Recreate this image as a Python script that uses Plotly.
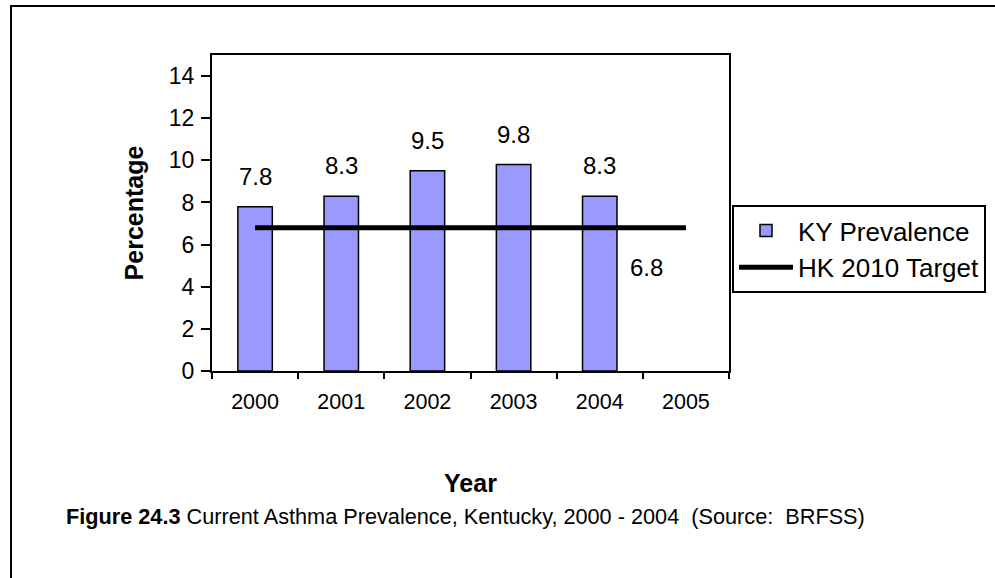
import plotly.graph_objects as go

# Data
years = ["2000", "2001", "2002", "2003", "2004", "2005"]
bar_years = ["2000", "2001", "2002", "2003", "2004"]
ky_prevalence = [7.8, 8.3, 9.5, 9.8, 8.3]
hk_target = [6.8, 6.8, 6.8, 6.8, 6.8, 6.8]
y_ticks = [0, 2, 4, 6, 8, 10, 12, 14]

FONT = "Arial, 'Liberation Sans', Helvetica, sans-serif"
W, H = 995, 578
ML, MR, MT, MB = 212, 266, 55, 207
PW, PH = W - ML - MR, H - MT - MB


def px_x(px):
    """Convert a page x pixel to paper coordinates."""
    return (px - ML) / PW


def px_y(py):
    """Convert a page y pixel to paper coordinates."""
    return (H - MB - py) / PH


fig = go.Figure()

fig.add_trace(go.Bar(
    x=bar_years, y=ky_prevalence, name="KY Prevalence",
    width=0.4,
    marker=dict(color="#9999FF", line=dict(color="black", width=1.5)),
))

fig.add_trace(go.Scatter(
    x=years, y=hk_target, name="HK 2010 Target", mode="lines",
    line=dict(color="black", width=5),
))

annotations = []
# value labels above the bars (category axis -> serial index)
for yr, v in zip(bar_years, ky_prevalence):
    annotations.append(dict(
        x=years.index(yr), y=v, xref="x", yref="y", text=f"{v:.1f}", showarrow=False,
        yanchor="bottom", yshift=15, font=dict(family=FONT, size=24, color="black"),
    ))
# value label for the target line
annotations.append(dict(
    x=len(years) - 1, y=hk_target[-1], xref="x", yref="y", text=f"{hk_target[-1]:.1f}",
    showarrow=False, yanchor="middle", xshift=-39, yshift=-40,
    font=dict(family=FONT, size=24, color="black"),
))
# figure caption
annotations.append(dict(
    x=px_x(64), y=px_y(516), xref="paper", yref="paper", xanchor="left", yanchor="middle",
    text="<b>Figure 24.3</b> Current Asthma Prevalence, Kentucky, 2000 - 2004 \u00a0(Source: \u00a0BRFSS)",
    showarrow=False, font=dict(family=FONT, size=21.7, color="black"),
))

shapes = [
    # outer frame (left and top edges)
    dict(type="line", xref="paper", yref="paper", x0=px_x(11), x1=px_x(11),
         y0=px_y(6), y1=px_y(H + 5), line=dict(color="black", width=2)),
    dict(type="line", xref="paper", yref="paper", x0=px_x(10), x1=px_x(W + 5),
         y0=px_y(6), y1=px_y(6), line=dict(color="black", width=2)),
]

fig.update_layout(
    width=W, height=H,
    margin=dict(l=ML, r=MR, t=MT, b=MB, autoexpand=False),
    paper_bgcolor="white", plot_bgcolor="white",
    font=dict(family=FONT, size=22, color="black"),
    showlegend=True,
    legend=dict(
        x=px_x(732), y=px_y(205), xanchor="left", yanchor="top",
        bgcolor="white", bordercolor="black", borderwidth=2,
        font=dict(family=FONT, size=26, color="black"),
        itemwidth=54, tracegroupgap=0,
    ),
    annotations=annotations,
    shapes=shapes,
    xaxis=dict(
        type="category", categoryorder="array", categoryarray=years,
        range=[-0.5, 5.5],
        showline=True, linecolor="black", linewidth=2, mirror=True,
        ticks="outside", tickson="boundaries", ticklen=6, tickwidth=2, tickcolor="black",
        showgrid=False, zeroline=False,
        tickfont=dict(family=FONT, size=21.5, color="black"),
        ticklabelstandoff=10,
        title=dict(text="<b>Year</b>", standoff=62,
                   font=dict(family=FONT, size=25, color="black")),
    ),
    yaxis=dict(
        range=[0, 15], tickvals=y_ticks,
        showline=True, linecolor="black", linewidth=2, mirror=True,
        ticks="outside", ticklen=9, tickwidth=2, tickcolor="black",
        showgrid=False, zeroline=False,
        tickfont=dict(family=FONT, size=23, color="black"),
        ticklabelstandoff=2,
        title=dict(text="<b>Percentage</b>", standoff=18,
                   font=dict(family=FONT, size=25, color="black")),
    ),
    # inward halves of the crossing tick marks
    xaxis2=dict(
        overlaying="x", range=[-0.5, 5.5], tickvals=[-0.5, 0.5, 1.5, 2.5, 3.5, 4.5, 5.5],
        showticklabels=False, ticks="inside", ticklen=7, tickwidth=2, tickcolor="black",
        showgrid=False, zeroline=False, showline=False, side="bottom", anchor="y",
    ),
    yaxis2=dict(
        overlaying="y", range=[0, 15], tickvals=y_ticks,
        showticklabels=False, ticks="inside", ticklen=8, tickwidth=2, tickcolor="black",
        showgrid=False, zeroline=False, showline=False, side="left", anchor="x",
    ),
)

fig.write_html("out.html")
